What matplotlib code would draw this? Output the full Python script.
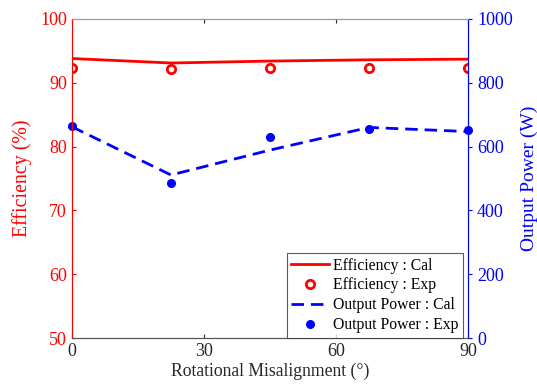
import matplotlib
matplotlib.use('Agg')
import matplotlib.pyplot as plt
from matplotlib.ticker import MultipleLocator

plt.rcParams['font.family'] = ['Liberation Serif', 'DejaVu Serif']

# dados
angulos = [0, 22.5, 45, 67.5, 90]
eficiencia_cal = [93.8, 93.1, 93.4, 93.6, 93.7]
eficiencia_exp = [92.3, 92.2, 92.3, 92.3, 92.3]
potencia_cal = [662, 511, 589, 660, 647]
potencia_exp = [665, 486, 631, 654, 653]

fig = plt.figure(figsize=(5.37, 3.87), dpi=100)
ax = fig.add_axes([0.134, 0.1266, 0.7375, 0.8244])
ax2 = ax.twinx()

l1, = ax.plot(angulos, eficiencia_cal, '-', color='red', lw=2, label='Efficiency : Cal')
l2, = ax.plot(angulos, eficiencia_exp, 'o', color='red', mfc='none', mew=2, ms=6,
              label='Efficiency : Exp')
l3, = ax2.plot(angulos, potencia_cal, '--', color='blue', lw=2, dashes=(4.5, 2.5),
               label='Output Power : Cal')
l4, = ax2.plot(angulos, potencia_exp, 'o', color='blue', ms=5.5,
               label='Output Power : Exp', clip_on=False)

ax.set_xlim(0, 90)
ax.set_ylim(50, 100)
ax2.set_ylim(0, 1000)
ax.xaxis.set_major_locator(MultipleLocator(30))
ax.yaxis.set_major_locator(MultipleLocator(10))
ax2.yaxis.set_major_locator(MultipleLocator(200))

ax.set_xlabel('Rotational Misalignment (°)', fontsize=12.7, color='#262626', labelpad=2)
ax.set_ylabel('Efficiency (%)', fontsize=14.3, color='red', labelpad=6)
ax2.set_ylabel('Output Power (W)', fontsize=14, color='blue', labelpad=6)

ax.tick_params(axis='x', direction='in', colors='#262626', labelsize=13, length=3, top=True)
ax.tick_params(axis='y', direction='in', colors='red', labelsize=13, length=3)
ax2.tick_params(axis='y', direction='out', colors='blue', labelsize=13, length=3)

for a in (ax, ax2):
    a.spines['top'].set_color('#999999')
    a.spines['bottom'].set_color('#555555')
    a.spines['left'].set_color('red')
    a.spines['right'].set_color('blue')

leg = ax2.legend(handles=[l1, l2, l3, l4], loc='lower right', fontsize=11.3,
                 bbox_to_anchor=(0.988, 0.0), borderaxespad=0,
                 frameon=True, fancybox=False, edgecolor='#333333',
                 handlelength=2.4, labelspacing=0.25,
                 handletextpad=0.25, borderpad=0.3)
leg.get_frame().set_linewidth(0.8)

fig.savefig('out.png', dpi=100)
